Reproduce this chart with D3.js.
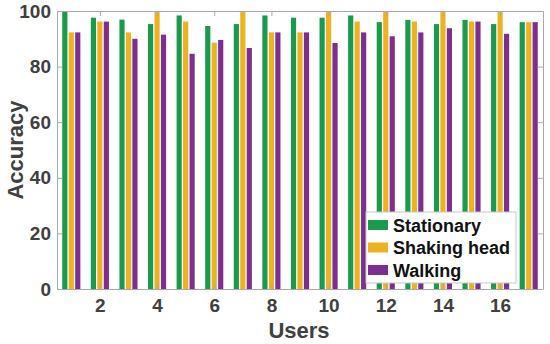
<!DOCTYPE html>
<html>
<head>
<meta charset="utf-8">
<script src="https://cdn.jsdelivr.net/npm/d3@7"></script>
<style>
  body { margin: 0; background: #fff; }
  text { font-family: "Liberation Sans", Arial, sans-serif; font-weight: bold; }
</style>
</head>
<body>
<svg id="chart"></svg>
<script>
const width = 550;
const height = 344;

// data
const users = d3.range(1, 18);
const seriesNames = ['Stationary', 'Shaking head', 'Walking'];
const stationary = [100, 97.6, 96.9, 95.3, 98.4, 94.6, 95.3, 98.4, 97.6, 97.6, 98.4, 96.0, 96.8, 95.3, 96.8, 95.3, 96.0];
const shakingHead = [92.3, 96.2, 92.3, 100, 96.2, 88.6, 100, 92.3, 92.3, 100, 96.2, 100, 96.2, 100, 96.2, 100, 96.0];
const walking = [92.3, 96.2, 90.0, 91.5, 84.6, 89.6, 86.7, 92.3, 92.3, 88.5, 92.3, 90.9, 92.3, 93.8, 96.2, 91.8, 96.0];
const xTicks = [2, 4, 6, 8, 10, 12, 14, 16];
const yTicks = [0, 20, 40, 60, 80, 100];
const colors = ['#1a9a4c', '#eeb220', '#7d2e8e'];

const plotLeft = 57, plotRight = 543, plotTop = 11, plotBottom = 289;

const svg = d3.select('#chart')
    .attr('width', width)
    .attr('height', height);

const x = d3.scaleLinear().domain([0.5, 17.5]).range([plotLeft, plotRight]);
const y = d3.scaleLinear().domain([0, 100]).range([plotBottom, plotTop]);
const inner = d3.scaleBand().domain(seriesNames).range([-9.7, 9.7])
    .paddingInner(0.2).paddingOuter(0.1);
const color = d3.scaleOrdinal().domain(seriesNames).range(colors);

const values = [stationary, shakingHead, walking];
const rows = [];
users.forEach((u, i) => {
    seriesNames.forEach((s, j) => rows.push({user: u, series: s, value: values[j][i]}));
});

// bars
svg.append('g').selectAll('rect')
    .data(rows).enter()
    .append('rect')
    .attr('x', d => x(d.user) + inner(d.series))
    .attr('width', inner.bandwidth())
    .attr('y', d => y(d.value))
    .attr('height', d => y(0) - y(d.value))
    .attr('fill', d => color(d.series));

// axes, box style with inward ticks
const axisColor = '#a8a8a8';
const tick = 5;

const xAxis = svg.append('g').attr('transform', `translate(0, ${plotBottom})`)
    .call(d3.axisBottom(x).tickValues(xTicks).tickSizeInner(-tick).tickSizeOuter(0).tickPadding(10));
const yAxis = svg.append('g').attr('transform', `translate(${plotLeft}, 0)`)
    .call(d3.axisLeft(y).tickValues(yTicks).tickSizeInner(-tick).tickSizeOuter(0).tickPadding(6));
const xTop = svg.append('g').attr('transform', `translate(0, ${plotTop})`)
    .call(d3.axisTop(x).tickValues(xTicks).tickSizeInner(-tick).tickSizeOuter(0).tickFormat(''));
const yRight = svg.append('g').attr('transform', `translate(${plotRight}, 0)`)
    .call(d3.axisRight(y).tickValues(yTicks).tickSizeInner(-tick).tickSizeOuter(0).tickFormat(''));

[xAxis, yAxis, xTop, yRight].forEach(a => {
    a.selectAll('path, line').attr('stroke', axisColor);
    a.selectAll('text')
        .attr('fill', '#404040')
        .style('font-size', '19px')
        .style('font-family', '"Liberation Sans", Arial, sans-serif')
        .style('font-weight', 'bold');
});

svg.append('text')
    .attr('x', 299).attr('y', 338)
    .attr('text-anchor', 'middle')
    .attr('fill', '#404040')
    .style('font-size', '22px')
    .text('Users');

svg.append('text')
    .attr('transform', 'translate(23, 150) rotate(-90)')
    .attr('text-anchor', 'middle')
    .attr('fill', '#404040')
    .style('font-size', '22px')
    .text('Accuracy');

// legend
const legend = svg.append('g').attr('transform', 'translate(366, 212)');
legend.append('rect')
    .attr('width', 150).attr('height', 71)
    .attr('fill', '#fff')
    .attr('stroke', '#c8c8c8');
seriesNames.forEach((s, i) => {
    const row = legend.append('g').attr('transform', `translate(0, ${13 + i * 22.5})`);
    row.append('rect')
        .attr('x', 2).attr('y', -5)
        .attr('width', 20).attr('height', 10)
        .attr('fill', color(s));
    row.append('text')
        .attr('x', 27).attr('y', 6.5)
        .attr('fill', '#111')
        .style('font-size', '18px')
        .text(s);
});
</script>
</body>
</html>
